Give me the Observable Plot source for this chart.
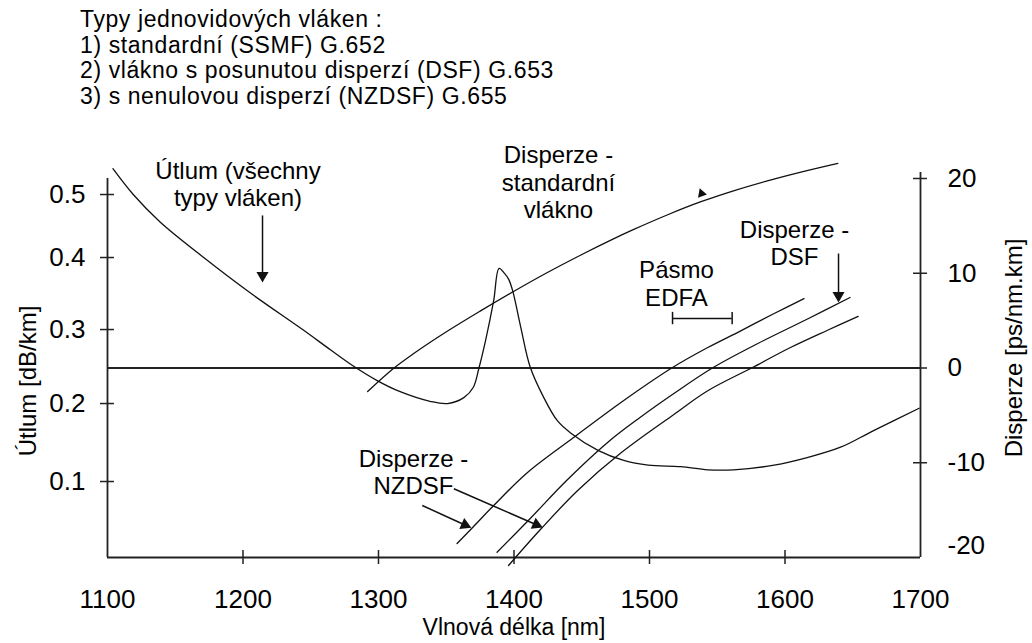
<!DOCTYPE html>
<html><head><meta charset="utf-8">
<script src="https://cdn.jsdelivr.net/npm/d3@7"></script>
<script src="https://cdn.jsdelivr.net/npm/@observablehq/plot@0.6"></script>
<style>
html,body{margin:0;padding:0;background:#fff;}
#wrap{position:relative;width:1032px;height:643px;overflow:hidden;font-family:"Liberation Sans",Arial,sans-serif;color:#000;}
#title{position:absolute;left:80px;top:7px;font-size:23px;line-height:25.5px;letter-spacing:0.6px;white-space:pre;}
#chart{position:absolute;left:0;top:112px;}
</style></head><body>
<div id="wrap"><div id="title"></div><div id="chart"></div></div>
<script>
// ---- text ----
const titleLines = [
  "Typy jednovidových vláken :",
  "1) standardní (SSMF) G.652",
  "2) vlákno s posunutou disperzí (DSF) G.653",
  "3) s nenulovou disperzí (NZDSF) G.655"
];
const xLabel = "Vlnová délka [nm]";
const leftLabel = "Útlum [dB/km]";
const rightLabel = "Disperze [ps/nm.km]";

// ---- ticks ----
const wavelengthTicks = [1100, 1200, 1300, 1400, 1500, 1600, 1700];
const attenuationTicks = [0.1, 0.2, 0.3, 0.4, 0.5];
const dispersionTicks = [20, 10, 0, -10, -20];

// ---- attenuation (dB/km), all fibre types ----
const attWl  = [1104, 1119, 1139, 1171, 1206, 1244, 1265, 1282, 1299, 1316, 1338, 1351, 1363, 1370, 1374, 1379, 1385, 1389, 1393, 1396, 1399, 1405, 1412, 1422, 1432, 1442, 1462, 1481, 1499, 1523, 1543, 1562, 1592, 1617, 1641, 1665, 1699];
const attVal = [0.541, 0.500, 0.456, 0.400, 0.350, 0.300, 0.272, 0.250, 0.231, 0.216, 0.203, 0.200, 0.208, 0.222, 0.247, 0.285, 0.340, 0.385, 0.378, 0.370, 0.354, 0.303, 0.249, 0.208, 0.178, 0.162, 0.140, 0.127, 0.121, 0.119, 0.115, 0.115, 0.121, 0.131, 0.144, 0.165, 0.194];

// ---- dispersion (ps/nm.km) ----
const ssmfWl  = [1292, 1311, 1326, 1351, 1375, 1400, 1425, 1449, 1473, 1488, 1513, 1538, 1562, 1587, 1611, 1639];
const ssmfVal = [-2.48, -0.05, 1.53, 3.9, 6.0, 8.1, 10.1, 11.9, 13.6, 14.6, 16.15, 17.55, 18.7, 19.75, 20.65, 21.6];

const nzdsfAWl  = [1358, 1370, 1385, 1410, 1444, 1481, 1517, 1543, 1567, 1592, 1614];
const nzdsfAVal = [-18.52, -16.75, -14.51, -11.03, -7.34, -3.43, 0.05, 2.16, 3.9, 5.75, 7.33];

const dsfWl  = [1387.5, 1412, 1439, 1471, 1493, 1518, 1547, 1580, 1617, 1648];
const dsfVal = [-19.44, -15.88, -11.85, -7.63, -5.22, -2.69, 0.05, 2.59, 5.2, 7.44];

const nzdsfBWl  = [1396, 1420, 1447, 1479, 1518, 1543, 1576, 1604, 1631, 1654];
const nzdsfBVal = [-20.84, -16.97, -12.93, -8.95, -4.9, -2.4, 0.05, 2.16, 3.96, 5.44];

// ---- EDFA band ----
const edfaBand = [1517, 1561];
const edfaLevel = 5.22;

// ---- annotations (wavelength, dispersion units) ----
const noteText = ["Útlum (všechny\ntypy vláken)", "Disperze -\nstandardní\nvlákno", "Pásmo\nEDFA", "Disperze -\nDSF", "Disperze -\nNZDSF"];
const noteWl   = [1196.3, 1432.8, 1519.9, 1607, 1325.8];
const noteDisp = [19.44, 19.65, 8.94, 13.21, -10.96];

const arrowWl1   = [1214.4, 1639.5, 1332.3, 1355.6];
const arrowDisp1 = [16.1, 12.08, -14.51, -12.75];
const arrowWl2   = [1214.4, 1639.5, 1363.8, 1416.5];
const arrowDisp2 = [9.76, 7.65, -16.57, -16.54];
const arrowAngle = [180, 180, 114, 114];
const markerWl = [1538.4], markerDisp = [18.42];

// ---- left axis calibration: attenuation -> right-axis (dispersion) units ----
const attToDisp = d3.scaleLinear().domain(attenuationTicks).range([-11.98, -3.75, 4.06, 11.66, 18.31]);

// ---- build tables ----
document.getElementById("title").textContent = titleLines.join("\n");

const attTable = attWl.map((x, i) => ({x, y: attToDisp(attVal[i])}));
const dispTable = [
  ...ssmfWl.map((x, i) => ({s: "SSMF", x, y: ssmfVal[i]})),
  ...nzdsfAWl.map((x, i) => ({s: "NZDSF-a", x, y: nzdsfAVal[i]})),
  ...dsfWl.map((x, i) => ({s: "DSF", x, y: dsfVal[i]})),
  ...nzdsfBWl.map((x, i) => ({s: "NZDSF-b", x, y: nzdsfBVal[i]}))
];
const notes = noteText.map((t, i) => ({t, x: noteWl[i], y: noteDisp[i]}));
const arrows = arrowWl1.map((x1, i) => ({x1, y1: arrowDisp1[i], x2: arrowWl2[i], y2: arrowDisp2[i], r: arrowAngle[i]}));
const markers = markerWl.map((x, i) => ({x, y: markerDisp[i]}));
const leftTickPos = attenuationTicks.map(attToDisp);
const leftLabelMap = new Map(attenuationTicks.map(a => [attToDisp(a), a.toFixed(1)]));
const edfa = [{x1: edfaBand[0], x2: edfaBand[1], y: edfaLevel}];

const W = 1032, H = 531, mT = 66, mB = 86, mL = 107, mR = 112;
const frameW = W - mL - mR, frameH = H - mT - mB;
const ink = "#111", axisInk = "#222";

const chart = Plot.plot({
  width: W, height: H,
  marginTop: mT, marginBottom: mB, marginLeft: mL, marginRight: mR,
  x: {domain: [1100, 1700]},
  y: {domain: [-20, 20]},
  style: {fontFamily: '"Liberation Sans", Arial, sans-serif', fontSize: "24px", color: "#000", background: "#fff", overflow: "visible"},
  marks: [
    // axes frame
    Plot.ruleX([wavelengthTicks[0]], {stroke: axisInk, strokeWidth: 1.8}),
    Plot.ruleX([wavelengthTicks[6]], {stroke: axisInk, strokeWidth: 1.8, insetTop: -6}),
    Plot.ruleY([-20], {stroke: axisInk, strokeWidth: 1.8}),
    Plot.ruleY([0], {stroke: axisInk, strokeWidth: 1.8}),
    // tick marks crossing the axes
    Plot.ruleX(wavelengthTicks.slice(1, -1), {stroke: axisInk, strokeWidth: 1.5, insetTop: frameH - 7, insetBottom: -7}),
    Plot.ruleY(leftTickPos, {stroke: axisInk, strokeWidth: 1.5, insetLeft: -7, insetRight: frameW - 7}),
    Plot.ruleY(dispersionTicks.slice(0, -1), {stroke: axisInk, strokeWidth: 1.5, insetLeft: frameW - 7, insetRight: -7}),
    // tick labels
    Plot.axisX(wavelengthTicks, {anchor: "bottom", tickSize: 0, tickPadding: 32, fontSize: 26, label: null, tickFormat: d => String(d)}),
    Plot.axisY(leftTickPos, {anchor: "left", tickSize: 0, tickPadding: 22, fontSize: 26, label: null, tickFormat: d => leftLabelMap.get(d)}),
    Plot.axisY(dispersionTicks.slice(0, -1), {anchor: "right", tickSize: 0, tickPadding: 27, fontSize: 26, label: null, tickFormat: d => String(d)}),
    Plot.text([String(dispersionTicks[4])], {frameAnchor: "bottom-right", dx: 27, dy: -12, textAnchor: "start", lineAnchor: "middle", fontSize: 26}),
    // axis titles
    Plot.text([xLabel], {frameAnchor: "bottom", dy: 70, textAnchor: "middle", lineAnchor: "middle", fontSize: 23}),
    Plot.text([leftLabel], {frameAnchor: "left", dx: -79, dy: 13, rotate: -90, textAnchor: "middle", lineAnchor: "middle", fontSize: 24}),
    Plot.text([rightLabel], {frameAnchor: "right", dx: 94, dy: -20, rotate: -90, textAnchor: "middle", lineAnchor: "middle", fontSize: 24}),
    // data
    Plot.line(attTable, {x: "x", y: "y", curve: "catmull-rom", stroke: ink, strokeWidth: 1.3}),
    Plot.line(dispTable, {x: "x", y: "y", z: "s", curve: "catmull-rom", stroke: ink, strokeWidth: 1.3}),
    // EDFA band
    Plot.ruleY(edfa, {x1: "x1", x2: "x2", y: "y", stroke: ink, strokeWidth: 1.5}),
    Plot.ruleX(edfaBand, {x: d => d, y1: edfaLevel - 0.65, y2: edfaLevel + 0.65, stroke: ink, strokeWidth: 1.5}),
    // annotations
    Plot.text(notes, {x: "x", y: "y", text: "t", fontSize: 24, lineHeight: 1.146, textAnchor: "middle"}),
    Plot.link(arrows, {x1: "x1", y1: "y1", x2: "x2", y2: "y2", stroke: ink, strokeWidth: 1.5}),
    Plot.dot(arrows, {x: "x2", y: "y2", symbol: "triangle", r: 4.5, rotate: "r", fill: ink, stroke: "none"}),
    Plot.dot(markers, {x: "x", y: "y", symbol: "triangle", r: 3.5, rotate: -20, fill: ink, stroke: "none"})
  ]
});
document.getElementById("chart").appendChild(chart);
</script>
</body></html>
